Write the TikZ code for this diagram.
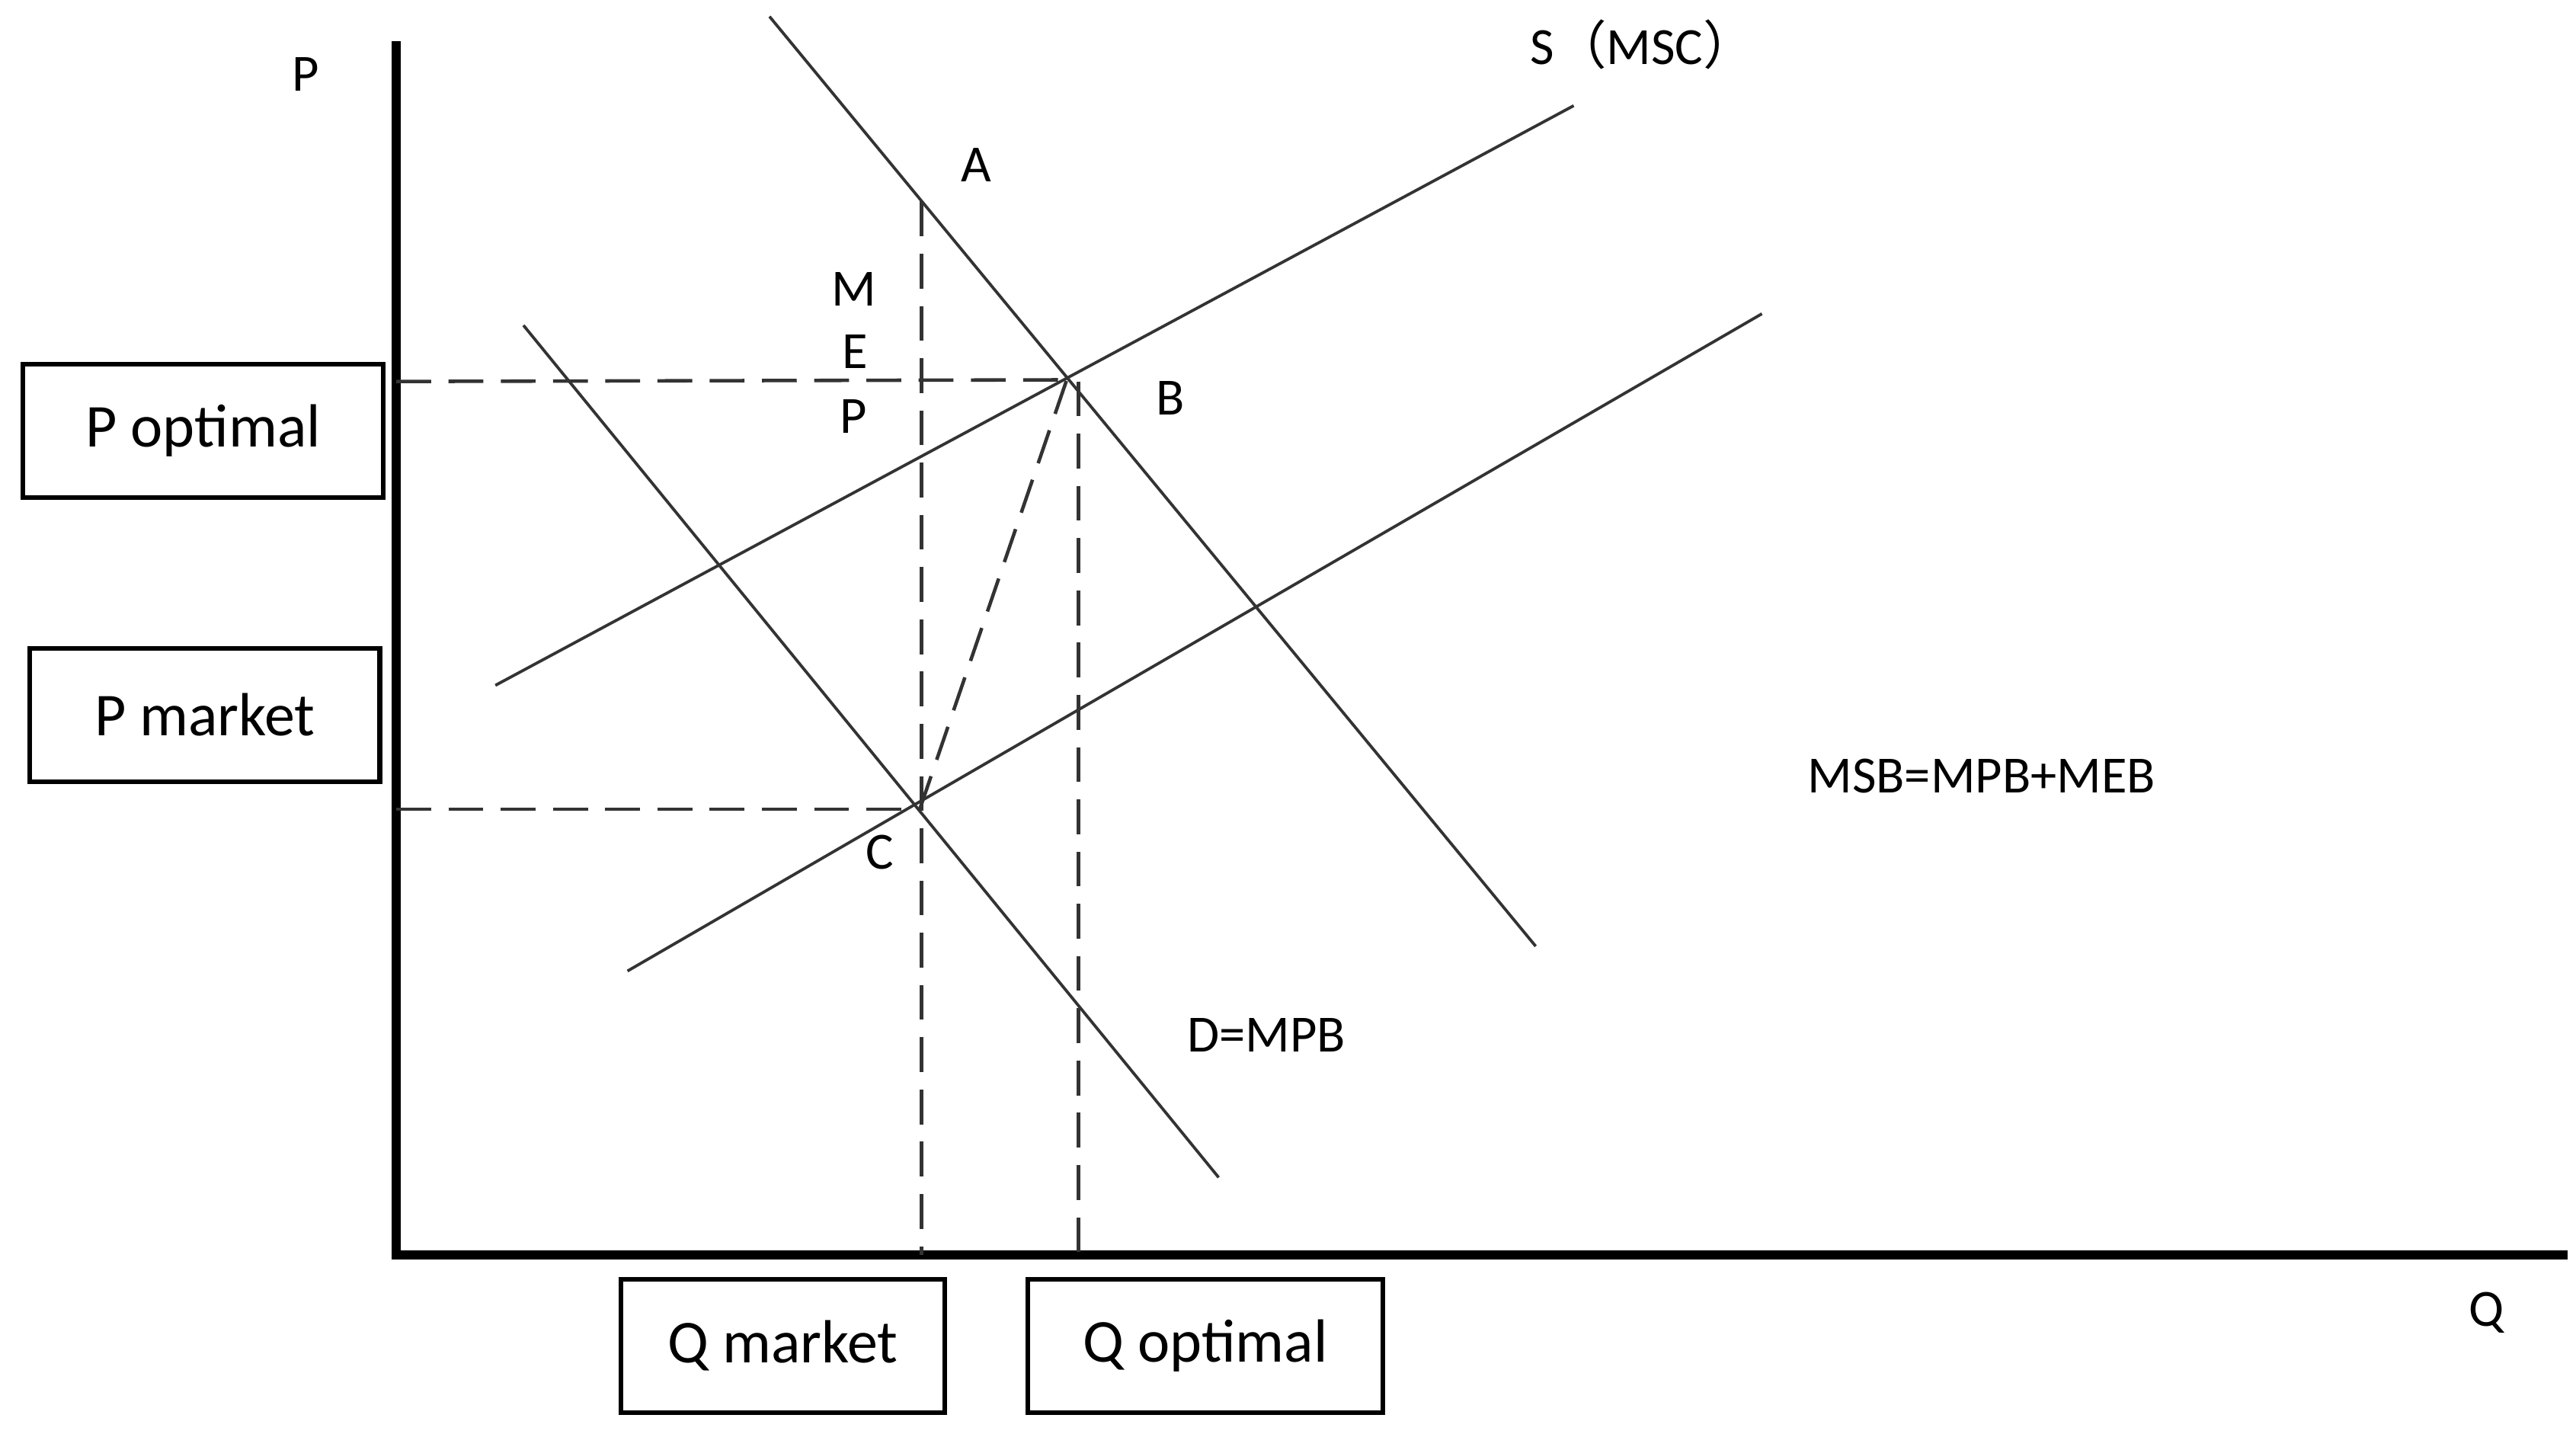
\documentclass[tikz,border=0pt]{standalone}
\usepackage{fontspec}
\setmainfont{Carlito}
\newfontfamily\cjk{Noto Sans CJK SC}
\usepackage{tikz}
\usetikzlibrary{positioning}

\begin{document}
\begin{tikzpicture}[x=0.1mm, y=-0.1mm]
	\tikzstyle{every node} = [font=\fontsize{9}{11}\selectfont, inner sep=0pt]
	\tikzstyle{box} = [draw = black, line width=0.8pt, minimum height=8.1mm, font=\fontsize{10.5}{12}\selectfont]
	\tikzstyle{curve} = [line width=0.5pt, black!80]
	\tikzstyle{guide} = [line width=0.6pt, black!80, dash pattern=on 6pt off 3pt]
	\tikzstyle{axis} = [line width=1.5pt]
\useasboundingbox (0,0) rectangle (1560,868);

% axes
\coordinate (O) at (240, 760);
\coordinate (Ptop) at (240, 25);
\coordinate (Qend) at (1555, 760);
	\path[draw, axis] (Ptop) -- (O) -- (Qend);

% curve ends
\coordinate (msb1) at (466, 10);
\coordinate (msb2) at (930, 573);
\coordinate (mpb1) at (317, 197);
\coordinate (mpb2) at (738, 713);
\coordinate (msc1) at (300, 415);
\coordinate (msc2) at (953, 64);
\coordinate (mpc1) at (380, 588);
\coordinate (mpc2) at (1067, 190);

% points
\coordinate (A) at (558, 122);
\coordinate (B) at (646, 230);
\coordinate (Bq) at (653, 231);
\coordinate (C) at (557, 490);
\coordinate (Popt) at (240, 231);
\coordinate (Pmkt) at (240, 490);
\coordinate (Qmkt) at (558, 760);
\coordinate (Qopt) at (653, 760);

	\path[draw, curve] (msb1) -- (msb2);
	\path[draw, curve] (mpb1) -- (mpb2);
	\path[draw, curve] (msc1) -- (msc2);
	\path[draw, curve] (mpc1) -- (mpc2);

	\path[draw, guide] (Popt) -- (B);
	\path[draw, guide] (Pmkt) -- (C);
	\path[draw, guide] (A) -- (Qmkt);
	\path[draw, guide] (Bq) -- (Qopt);
	\path[draw, guide] (C) -- (B);

% boxes
\node[box, minimum width=21.8mm] (boxPopt) at (123, 261) {P optimal\hspace{2mm}};
\node[box, minimum width=21.2mm] (boxPmkt) at (124, 433) {P market\hspace{2mm}};
\node[box, minimum width=19.6mm] (boxQmkt) at (474, 815) {Q market};
\node[box, minimum width=21.5mm] (boxQopt) at (730, 815) {Q optimal\hspace{1mm}};

% labels
\node (labP) at (185, 45) {P};
\node (labQ) at (1506, 795) {Q};
\node (labA) at (591, 100) {A};
\node (labB) at (709, 241) {B};
\node (labC) at (533, 516) {C};
\node (labM) at (517, 175) {M};
\node (labE) at (518, 213) {E};
\node (labMP) at (517, 252) {P};
\node (labS) at (995, 27) {S{\cjk（}MSC{\cjk）}};
\node (labD) at (767, 627) {D=MPB};
\node (labMSB) at (1200, 470) {MSB=MPB+MEB};
	\end{tikzpicture}
\end{document}
